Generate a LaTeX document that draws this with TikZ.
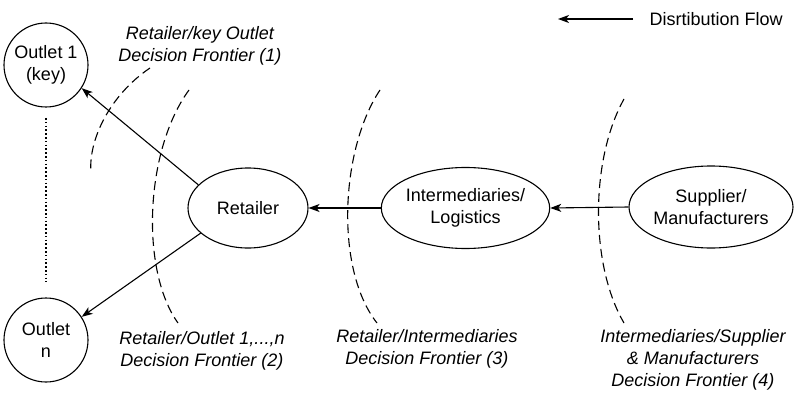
\documentclass[tikz,border=0pt]{standalone}
\usepackage{fontspec}
\setmainfont{Liberation Sans}
\usetikzlibrary{shapes.geometric,arrows.meta}
\begin{document}
\begin{tikzpicture}[x=1pt,y=-1pt,
  every node/.style={font=\fontsize{18}{22}\selectfont, align=center},
  outlet/.style={draw, circle, line width=1.1pt, minimum size=84pt, inner sep=0pt},
  actor/.style={draw, ellipse, line width=1.1pt, inner sep=0pt},
  flow/.style={line width=1.1pt, -{Stealth[length=11pt,width=8pt,inset=3pt]}},
  frontier/.style={line width=1.1pt, dash pattern=on 9pt off 5pt},
  label/.style={font=\fontsize{18}{22}\selectfont\itshape, align=center}]
\useasboundingbox (0,0) rectangle (795,393);

% actors of the chain
\node[outlet] (o1) at (46,65) {Outlet 1\\(key)};
\node[outlet] (on) at (46,340) {Outlet\\n};
\node[actor, minimum width=120pt, minimum height=80pt] (ret) at (248,208) {Retailer};
\node[actor, minimum width=153pt, minimum height=81pt] (int) at (465.5,208) {Intermediaries/\\Logistics};
\node[actor, minimum width=164pt, minimum height=82pt] (sup) at (711,207) {Supplier/\\Manufacturers};

% outlets 2 .. n-1 left out
\draw[line width=1.6pt, dash pattern=on 1.6pt off 2.2pt] (46,118) -- (46,282);

% distribution flow
\draw[flow] (sup.west) -- (int.east);
\draw[flow] (int.west) -- (ret.east);
\draw[flow] (ret.155) -- (o1.-33);
\draw[flow] (ret.208) -- (on.33);

% decision frontiers
\draw[frontier] (150,68) .. controls (110,95) and (88,140) .. (91,173);
\draw[frontier] (189,90) .. controls (145,150) and (140,270) .. (178,323);
\draw[frontier] (380,90) .. controls (340,150) and (335,270) .. (377,323);
\draw[frontier] (624,99) .. controls (590,160) and (590,265) .. (624,323);

\node[label] (f1) at (200,46) {Retailer/key Outlet\\Decision Frontier (1)};
\node[label] (f2) at (202,351) {Retailer/Outlet 1,...,n\\Decision Frontier (2)};
\node[label] (f3) at (427,349) {Retailer/Intermediaries\\Decision Frontier (3)};
\node[label] (f4) at (693,360) {Intermediaries/Supplier\\\& Manufacturers\\Decision Frontier (4)};

% legend
\coordinate (lgA) at (633,19);
\coordinate (lgB) at (558,19);
\draw[flow] (lgA) -- (lgB);
\node[anchor=west] (lg) at (646,19) {Disrtibution Flow};
\end{tikzpicture}
\end{document}
